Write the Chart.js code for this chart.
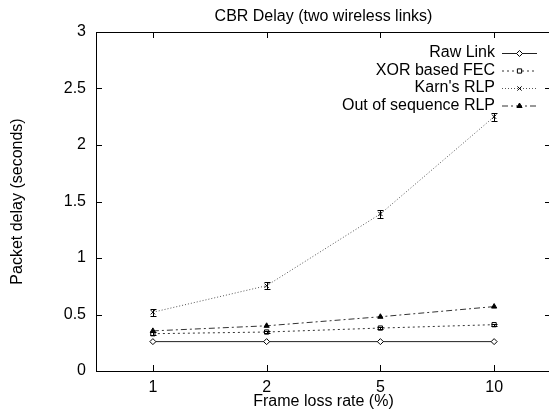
<!DOCTYPE html>
<html>
<head>
<meta charset="utf-8">
<script src="https://cdn.jsdelivr.net/npm/chart.js@4.4.1/dist/chart.umd.min.js"></script>
<style>
  html, body { margin: 0; padding: 0; background: #fff; overflow: hidden; }
  #wrap { position: relative; width: 556px; height: 412px; }
</style>
</head>
<body>
<div id="wrap"><canvas id="chart" width="556" height="412"></canvas></div>
<script>
// data
const lossRates = ['1', '2', '5', '10'];
const rawLink = [0.26, 0.26, 0.26, 0.26];
const xorFec = [0.33, 0.345, 0.38, 0.41];
const xorErr = [0.012, 0.012, 0.01, 0.01];
const karnRlp = [0.52, 0.755, 1.39, 2.25];
const karnErr = [0.03, 0.03, 0.035, 0.035];
const outOfSeqRlp = [0.355, 0.40, 0.48, 0.57];
const seriesNames = ['Raw Link', 'XOR based FEC', "Karn's RLP", 'Out of sequence RLP'];

const FONT = '"Liberation Sans", Arial, Helvetica, sans-serif';
const SIZE = 16;

// box + inward tick marks, gnuplot style
const framePlugin = {
    id: 'frame',
    afterDraw(chart) {
        const { ctx, chartArea: a, scales: { x, y } } = chart;
        ctx.save();
        ctx.strokeStyle = '#000';
        ctx.lineWidth = 1;
        ctx.strokeRect(a.left + 0.5, a.top + 0.5, a.right - a.left, a.bottom - a.top);
        ctx.beginPath();
        y.ticks.forEach(t => {
            const py = Math.round(y.getPixelForValue(t.value)) + 0.5;
            ctx.moveTo(a.left, py); ctx.lineTo(a.left + 6, py);
            ctx.moveTo(a.right, py); ctx.lineTo(a.right - 6, py);
        });
        x.ticks.forEach((t, i) => {
            const px = Math.round(x.getPixelForValue(i)) + 0.5;
            ctx.moveTo(px, a.bottom); ctx.lineTo(px, a.bottom - 6);
            ctx.moveTo(px, a.top); ctx.lineTo(px, a.top + 6);
        });
        ctx.stroke();
        ctx.restore();
    }
};

// error bars (XOR and Karn's)
const errorPlugin = {
    id: 'errbars',
    afterDatasetsDraw(chart) {
        const { ctx, scales: { x, y } } = chart;
        const sets = [[xorFec, xorErr], [karnRlp, karnErr]];
        ctx.save();
        ctx.strokeStyle = '#000';
        ctx.lineWidth = 1;
        ctx.beginPath();
        sets.forEach(([vals, errs]) => {
            vals.forEach((v, i) => {
                const px = Math.round(x.getPixelForValue(i)) + 0.5;
                const lo = Math.round(y.getPixelForValue(v - errs[i])) + 0.5;
                const hi = Math.round(y.getPixelForValue(v + errs[i])) + 0.5;
                ctx.moveTo(px, lo); ctx.lineTo(px, hi);
                ctx.moveTo(px - 3, lo); ctx.lineTo(px + 3, lo);
                ctx.moveTo(px - 3, hi); ctx.lineTo(px + 3, hi);
            });
        });
        ctx.stroke();
        ctx.restore();
    }
};

// title centred over the plot and the key in the top right corner
const keyPlugin = {
    id: 'key',
    afterDraw(chart) {
        const { ctx, chartArea: a } = chart;
        ctx.save();
        ctx.fillStyle = '#000';
        ctx.font = SIZE + 'px ' + FONT;
        ctx.textAlign = 'center';
        ctx.textBaseline = 'middle';
        ctx.fillText('CBR Delay (two wireless links)', (a.left + a.right) / 2, 17);

        ctx.textAlign = 'right';
        chart.data.datasets.forEach((ds, i) => {
            const yy = 53 + i * 17.5;
            ctx.fillStyle = '#000';
            ctx.fillText(ds.label, 495, yy);
            ctx.beginPath();
            ctx.setLineDash(ds.borderDash || []);
            ctx.strokeStyle = ds.borderColor;
            ctx.lineWidth = 1;
            ctx.moveTo(502, yy + 0.5);
            ctx.lineTo(537, yy + 0.5);
            ctx.stroke();
            ctx.setLineDash([]);
            ctx.fillStyle = ds.pointBackgroundColor;
            ctx.strokeStyle = ds.pointBorderColor;
            Chart.helpers.drawPoint(ctx, { pointStyle: ds.pointStyle, radius: ds.pointRadius, rotation: 0, borderWidth: 1 }, 519.5, yy + 0.5);
        });
        ctx.restore();
    }
};

function series(label, data, color, dash, style, fill, radius) {
    return {
        label, data,
        borderColor: color,
        borderWidth: 1,
        borderDash: dash,
        pointStyle: style,
        pointRadius: radius,
        pointBackgroundColor: fill,
        pointBorderColor: '#000',
        pointBorderWidth: 1,
        tension: 0
    };
}

new Chart(document.getElementById('chart'), {
    type: 'line',
    data: {
        labels: lossRates,
        datasets: [
            series(seriesNames[0], rawLink, '#222', [], 'rectRot', '#fff', 3),
            series(seriesNames[1], xorFec, '#333', [2, 3], 'rect', '#fff', 3),
            series(seriesNames[2], karnRlp, '#555', [1, 2], 'crossRot', '#fff', 3),
            series(seriesNames[3], outOfSeqRlp, '#333', [6, 3, 2, 3], 'triangle', '#000', 3)
        ]
    },
    options: {
        responsive: false,
        animation: false,
        devicePixelRatio: 1,
        layout: { padding: { top: 32, right: 4, left: 0, bottom: 0 } },
        plugins: {
            legend: { display: false },
            tooltip: { enabled: false },
            title: { display: false }
        },
        scales: {
            x: {
                type: 'category',
                offset: true,
                grid: { display: false, drawTicks: false },
                border: { display: false },
                ticks: { color: '#000', font: { family: FONT, size: SIZE }, padding: 7, maxRotation: 0 },
                title: { display: true, text: 'Frame loss rate (%)', color: '#000', font: { family: FONT, size: SIZE }, padding: { top: 0, bottom: 1 } },
                afterFit: s => { s.height = 41; }
            },
            y: {
                min: 0,
                max: 3,
                grid: { display: false, drawTicks: false },
                border: { display: false },
                ticks: { stepSize: 0.5, color: '#000', font: { family: FONT, size: SIZE }, padding: 10, callback: v => String(v) },
                title: { display: true, text: 'Packet delay (seconds)', color: '#000', font: { family: FONT, size: SIZE }, padding: { top: 8, bottom: 0 } },
                afterFit: s => { s.width = 96; }
            }
        }
    },
    plugins: [framePlugin, errorPlugin, keyPlugin]
});
</script>
</body>
</html>
